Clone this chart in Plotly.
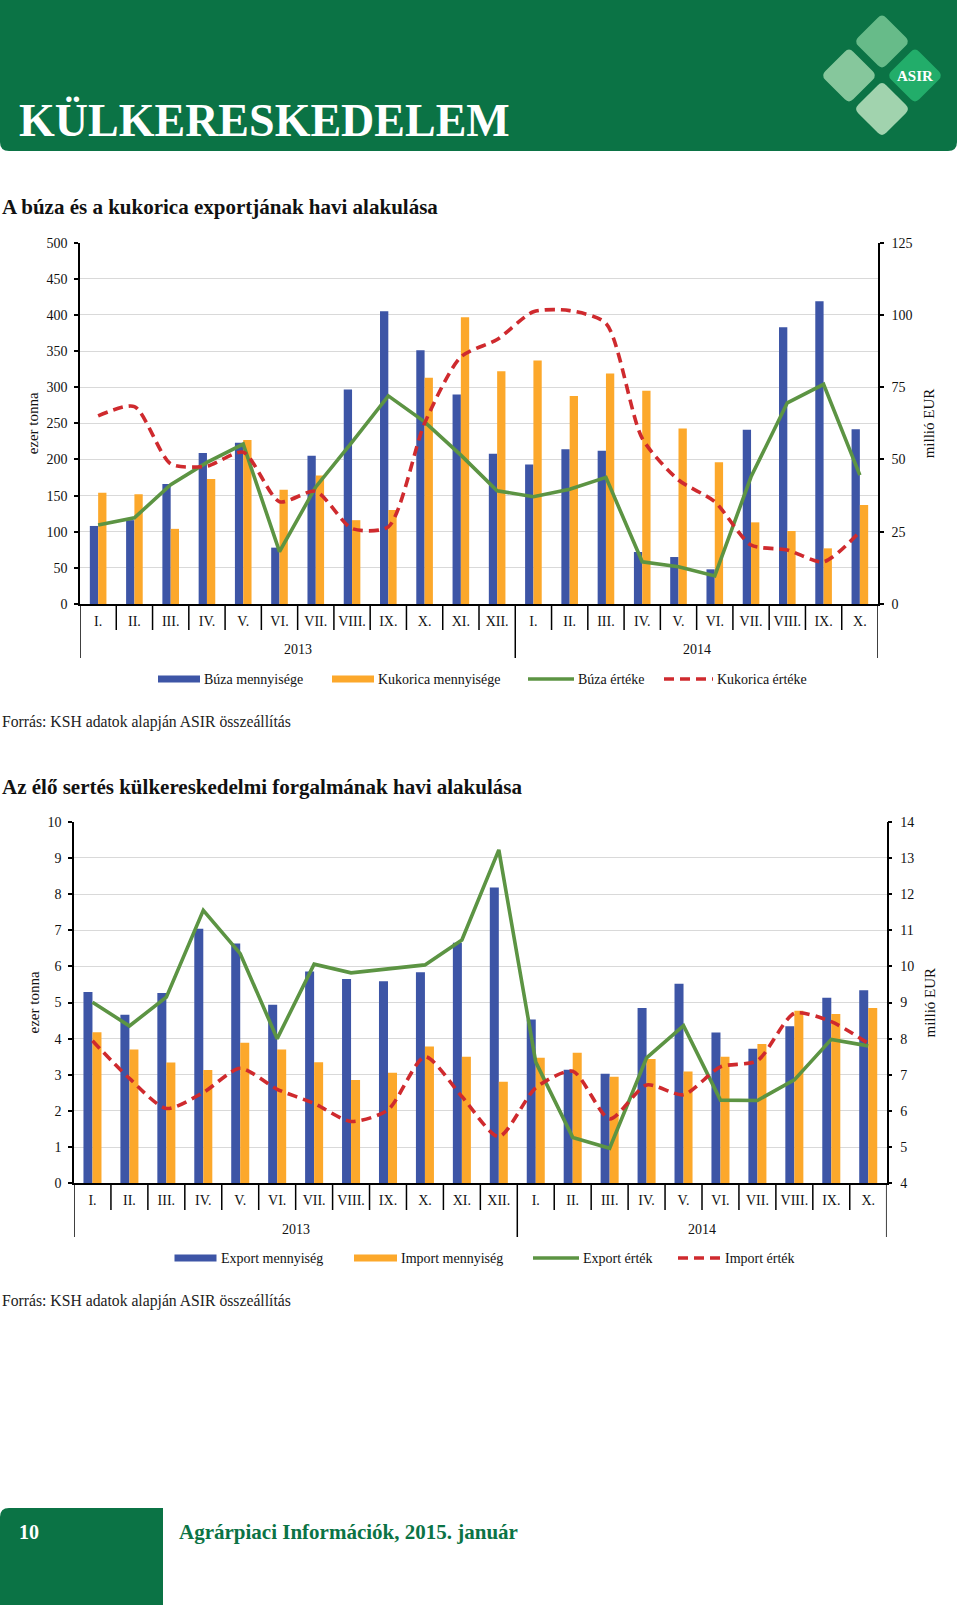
import plotly.graph_objects as go

# ---------------- data ----------------
months = ["I.", "II.", "III.", "IV.", "V.", "VI.", "VII.", "VIII.", "IX.", "X.", "XI.", "XII.",
          "I.", "II.", "III.", "IV.", "V.", "VI.", "VII.", "VIII.", "IX.", "X."]
years = ["2013", "2014"]
year_month_counts = [12, 10]

# Chart 1 – búza / kukorica
buza_mennyisege = [108, 116, 166, 209, 223, 78, 205, 297, 405, 351, 290, 208,
                   193, 214, 212, 72, 65, 48, 241, 383, 419, 242]
kukorica_mennyisege = [154, 152, 104, 173, 227, 158, 178, 116, 130, 313, 397, 322,
                       337, 288, 319, 295, 243, 196, 113, 101, 77, 137]
buza_erteke = [27.3, 29.8, 41.3, 49.0, 55.3, 18.1, 40.5, 56.0, 72.0, 63.0, 51.5, 39.2,
               37.1, 39.7, 43.8, 14.6, 12.9, 9.7, 44.0, 69.6, 76.0, 44.6]
kukorica_erteke = [65.1, 68.3, 48.5, 47.7, 52.5, 35.4, 39.0, 26.1, 26.7, 62.5, 85.5, 91.5,
                   101.1, 101.5, 97.1, 57.3, 42.9, 35.4, 20.4, 18.7, 14.6, 25.0]

# Chart 2 – élő sertés
export_mennyiseg = [5.29, 4.66, 5.26, 7.04, 6.63, 4.94, 5.86, 5.65, 5.59, 5.84, 6.65, 8.18,
                    4.53, 3.14, 3.03, 4.85, 5.52, 4.17, 3.72, 4.34, 5.13, 5.34]
import_mennyiseg = [4.18, 3.70, 3.34, 3.13, 3.89, 3.70, 3.35, 2.86, 3.06, 3.78, 3.50, 2.81,
                    3.47, 3.61, 2.95, 3.44, 3.09, 3.50, 3.85, 4.77, 4.68, 4.85]
export_ertek = [9.01, 8.35, 9.15, 11.55, 10.35, 8.00, 10.06, 9.82, 9.93, 10.04, 10.73, 13.22,
                7.35, 5.27, 4.97, 7.47, 8.36, 6.30, 6.29, 6.86, 7.98, 7.80]
import_ertek = [7.94, 6.90, 6.07, 6.51, 7.18, 6.60, 6.21, 5.71, 6.03, 7.50, 6.40, 5.29,
                6.64, 7.10, 5.78, 6.72, 6.45, 7.22, 7.39, 8.70, 8.47, 7.87]

# ---------------- styling ----------------
W, H = 960, 1605
SERIF = "Liberation Serif"
BLUE = "#3d55a6"
ORANGE = "#fca82b"
GREEN = "#5c9443"
RED = "#cf2a2e"
DARKGREEN = "#0b7345"
GRID = "#d9d9d9"


def px(x):
    return x / W


def py(y):
    return 1 - y / H


xpos = list(range(len(months)))

fig = go.Figure()

charts = [
    dict(xa="x", ya="y", ya2="y2", left=80, right=878, top=242.7, bottom=604,
         bars=[("Búza mennyisége", buza_mennyisege, BLUE), ("Kukorica mennyisége", kukorica_mennyisege, ORANGE)],
         lines=[("Búza értéke", buza_erteke, GREEN, "solid", "linear"),
                ("Kukorica értéke", kukorica_erteke, RED, "10px,6px", "spline")],
         yr=[0, 500], ydt=50, y2r=[0, 125], y2dt=25, barw=0.229,
         title="A búza és a kukorica exportjának havi alakulása", title_y=207,
         sep_short=630, sep_long=658, year_y=649, legend_y=679,
         legend_x=[158, 332, 528, 664], legend_w=[42, 42, 46, 49], source_y=722),
    dict(xa="x2", ya="y3", ya2="y4", left=74, right=886.7, top=821.7, bottom=1183.3,
         bars=[("Export mennyiség", export_mennyiseg, BLUE), ("Import mennyiség", import_mennyiseg, ORANGE)],
         lines=[("Export érték", export_ertek, GREEN, "solid", "linear"),
                ("Import érték", import_ertek, RED, "10px,6px", "spline")],
         yr=[0, 10], ydt=1, y2r=[4, 14], y2dt=1, barw=0.244,
         title="Az élő sertés külkereskedelmi forgalmának havi alakulása", title_y=787,
         sep_short=1210, sep_long=1237, year_y=1229, legend_y=1258,
         legend_x=[174.5, 354, 533, 678], legend_w=[42, 43, 46, 43], source_y=1301),
]

shapes = []
annotations = []

for ci, c in enumerate(charts):
    # bars
    for bi, (name, vals, col) in enumerate(c["bars"]):
        fig.add_trace(go.Bar(x=xpos, y=vals, name=name, marker=dict(color=col, line=dict(width=0)),
                             width=c["barw"], offset=-c["barw"] if bi == 0 else 0,
                             xaxis=c["xa"], yaxis=c["ya"], showlegend=False))
    # lines
    for name, vals, col, dash, shape in c["lines"]:
        fig.add_trace(go.Scatter(x=xpos, y=vals, name=name, mode="lines",
                                 line=dict(color=col, width=3.6, dash=dash, shape=shape,
                                           smoothing=0.7 if shape == "spline" else None),
                                 xaxis=c["xa"], yaxis=c["ya2"], showlegend=False))

    xkey = "xaxis" if c["xa"] == "x" else "xaxis2"
    ykey = "yaxis" if c["ya"] == "y" else "yaxis3"
    y2key = "yaxis2" if c["ya2"] == "y2" else "yaxis4"
    tickfont = dict(family=SERIF, size=14, color="#111")
    fig.update_layout(**{
        xkey: dict(domain=[px(c["left"]), px(c["right"])], range=[-0.5, len(months) - 0.5],
                   tickmode="array", tickvals=xpos, ticktext=months, ticks="",
                   ticklabelstandoff=3, showline=True, linecolor="black", linewidth=1.5,
                   showgrid=False, zeroline=False, tickfont=tickfont, anchor=c["ya"], fixedrange=True),
        ykey: dict(domain=[py(c["bottom"]), py(c["top"])], range=c["yr"], dtick=c["ydt"],
                   showline=True, linecolor="black", linewidth=1.5, ticks="outside", ticklen=4,
                   tickwidth=1.5, tickcolor="black", ticklabelstandoff=4,
                   showgrid=True, gridcolor=GRID, gridwidth=1, zeroline=False,
                   tickfont=tickfont, anchor=c["xa"], fixedrange=True),
        y2key: dict(overlaying=c["ya"], side="right", anchor=c["xa"], range=c["y2r"], dtick=c["y2dt"],
                    showline=True, linecolor="black", linewidth=1.5, ticks="outside", ticklen=4,
                    tickwidth=1.5, tickcolor="black", ticklabelstandoff=5,
                    showgrid=False, zeroline=False, tickfont=tickfont, fixedrange=True),
    })

    # category separators
    n = len(months)
    bounds = [0]
    for cnt in year_month_counts:
        bounds.append(bounds[-1] + cnt)
    for i in range(n + 1):
        long_sep = i in bounds
        shapes.append(dict(type="line", xref=c["xa"], yref="paper", x0=i - 0.5, x1=i - 0.5,
                           y0=py(c["bottom"]), y1=py(c["sep_long"] if long_sep else c["sep_short"]),
                           line=dict(color="black", width=1.5)))
    # year labels
    for yi, yr in enumerate(years):
        mid = (bounds[yi] + bounds[yi + 1] - 1) / 2
        annotations.append(dict(text=yr, x=mid, xref=c["xa"], y=py(c["year_y"]), yref="paper",
                                showarrow=False, font=dict(family=SERIF, size=14, color="#111"),
                                xanchor="center", yanchor="middle"))
    # axis titles
    mid_y = py((c["top"] + c["bottom"]) / 2)
    annotations.append(dict(text="ezer tonna", x=px(33), y=mid_y, xref="paper", yref="paper",
                            textangle=-90, showarrow=False, font=dict(family=SERIF, size=15, color="#111"),
                            xanchor="center", yanchor="middle"))
    annotations.append(dict(text="millió EUR", x=px(929), y=mid_y, xref="paper", yref="paper",
                            textangle=-90, showarrow=False, font=dict(family=SERIF, size=15, color="#111"),
                            xanchor="center", yanchor="middle"))
    # chart title
    annotations.append(dict(text="<b>" + c["title"] + "</b>", x=px(0), y=py(c["title_y"]),
                            xref="paper", yref="paper", showarrow=False,
                            font=dict(family=SERIF, size=21, color="#111"),
                            xanchor="left", yanchor="middle"))
    # legend (manual)
    ly = c["legend_y"]
    items = [(c["bars"][0][0], "bar", c["bars"][0][2], "solid"),
             (c["bars"][1][0], "bar", c["bars"][1][2], "solid"),
             (c["lines"][0][0], "line", c["lines"][0][2], "solid"),
             (c["lines"][1][0], "line", c["lines"][1][2], "dash")]
    for (label, kind, col, dash), lx, lw in zip(items, c["legend_x"], c["legend_w"]):
        if kind == "bar":
            shapes.append(dict(type="rect", xref="paper", yref="paper", x0=px(lx), x1=px(lx + lw),
                               y0=py(ly + 3.5), y1=py(ly - 3.5), fillcolor=col, line=dict(width=0)))
        else:
            shapes.append(dict(type="line", xref="paper", yref="paper", x0=px(lx), x1=px(lx + lw),
                               y0=py(ly), y1=py(ly),
                               line=dict(color=col, width=3.6, dash="10px,6px" if dash == "dash" else "solid")))
        annotations.append(dict(text=label, x=px(lx + lw + 2), y=py(ly), xref="paper", yref="paper",
                                showarrow=False, font=dict(family=SERIF, size=14, color="#111"),
                                xanchor="left", yanchor="middle"))
    # source
    annotations.append(dict(text="Forrás: KSH adatok alapján ASIR összeállítás", x=px(0), y=py(c["source_y"]),
                            xref="paper", yref="paper", showarrow=False,
                            font=dict(family=SERIF, size=15.7, color="#222"),
                            xanchor="left", yanchor="middle"))


# ---------------- page decoration ----------------
def path_from(points):
    s = ""
    for cmd, pts in points:
        s += cmd + " " + " ".join(f"{px(x):.5f},{py(y):.5f}" for x, y in pts) + " "
    return s + "Z"


def rounded_rect(x0, y0, x1, y1, r, tl=0, tr=0, br=0, bl=0):
    pts = [("M", [(x0 + r * tl, y0)]), ("L", [(x1 - r * tr, y0)])]
    if tr:
        pts.append(("Q", [(x1, y0), (x1, y0 + r)]))
    pts.append(("L", [(x1, y1 - r * br)]))
    if br:
        pts.append(("Q", [(x1, y1), (x1 - r, y1)]))
    pts.append(("L", [(x0 + r * bl, y1)]))
    if bl:
        pts.append(("Q", [(x0, y1), (x0, y1 - r)]))
    pts.append(("L", [(x0, y0 + r * tl)]))
    if tl:
        pts.append(("Q", [(x0, y0), (x0 + r, y0)]))
    return path_from(pts)


def diamond(cx, cy, w, h, f=0.15):
    v = [(cx, cy - h), (cx + w, cy), (cx, cy + h), (cx - w, cy)]
    pts = []
    for i in range(4):
        p_prev = v[i - 1]
        p = v[i]
        p_next = v[(i + 1) % 4]
        a = (p[0] + (p_prev[0] - p[0]) * f, p[1] + (p_prev[1] - p[1]) * f)
        b = (p[0] + (p_next[0] - p[0]) * f, p[1] + (p_next[1] - p[1]) * f)
        pts.append(("M" if i == 0 else "L", [a]))
        pts.append(("Q", [p, b]))
    return path_from(pts)


# header banner
shapes.append(dict(type="path", xref="paper", yref="paper", layer="below",
                   path=rounded_rect(0, 0, 957, 151, 9, br=1, bl=1),
                   fillcolor=DARKGREEN, line=dict(width=0)))
# logo diamonds
for (cx, cy, col) in [(882, 41.5, "#67bb89"), (849, 75.5, "#86c79c"), (915, 75.5, "#22ad6a"),
                      (882, 109, "#a1d3ae")]:
    shapes.append(dict(type="path", xref="paper", yref="paper", path=diamond(cx, cy, 28, 28),
                       fillcolor=col, line=dict(width=0)))
annotations.append(dict(text="<b>ASIR</b>", x=px(915), y=py(76), xref="paper", yref="paper",
                        showarrow=False, font=dict(family=SERIF, size=15, color="white"),
                        xanchor="center", yanchor="middle"))
annotations.append(dict(text="<b>KÜLKERESKEDELEM</b>", x=px(17), y=py(121), xref="paper", yref="paper",
                        showarrow=False, font=dict(family=SERIF, size=46, color="white"),
                        xanchor="left", yanchor="middle"))
# footer
shapes.append(dict(type="path", xref="paper", yref="paper", layer="below",
                   path=rounded_rect(0, 1508, 163, 1605, 9, tl=1),
                   fillcolor=DARKGREEN, line=dict(width=0)))
annotations.append(dict(text="<b>10</b>", x=px(17), y=py(1532), xref="paper", yref="paper",
                        showarrow=False, font=dict(family=SERIF, size=20, color="white"),
                        xanchor="left", yanchor="middle"))
annotations.append(dict(text="<b>Agrárpiaci Információk, 2015. január</b>", x=px(177), y=py(1532),
                        xref="paper", yref="paper", showarrow=False,
                        font=dict(family=SERIF, size=21, color=DARKGREEN),
                        xanchor="left", yanchor="middle"))

fig.update_layout(
    width=W, height=H, margin=dict(l=0, r=0, t=0, b=0, pad=0, autoexpand=False),
    paper_bgcolor="white", plot_bgcolor="white",
    barmode="overlay", showlegend=False,
    shapes=shapes, annotations=annotations,
    font=dict(family=SERIF, color="#111"),
)

fig.write_html("out.html", config={"displayModeBar": False},
               post_script="document.body.style.margin='0';document.body.style.overflow='hidden';")
